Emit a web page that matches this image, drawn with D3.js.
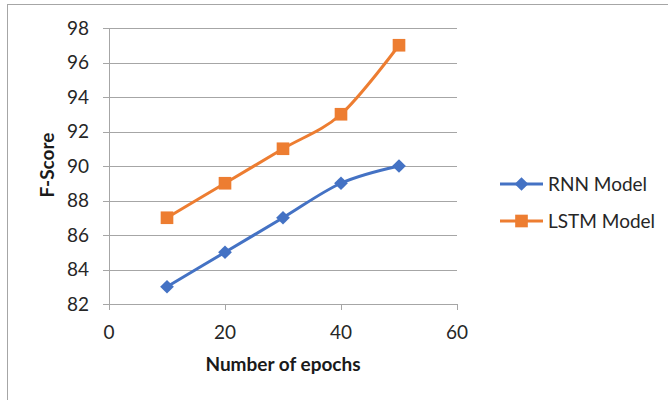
<!DOCTYPE html>
<html>
<head>
<meta charset="utf-8">
<script src="https://cdn.jsdelivr.net/npm/d3@7"></script>
<style>
  html, body { margin: 0; padding: 0; background: #fff; }
  svg { display: block; font-family: Lato, "Open Sans", sans-serif; }
</style>
</head>
<body>
<svg id="chart" width="668" height="400"></svg>
<script>
// Epoch counts on the x axis
const epochs = [10, 20, 30, 40, 50];
// F-Score per model
const rnnScores = [83, 85, 87, 89, 90];
const lstmScores = [87, 89, 91, 93, 97];
const seriesNames = ["RNN Model", "LSTM Model"];
const seriesColors = ["#4472C4", "#ED7D31"];
const xTicks = [0, 20, 40, 60];
const yTicks = [82, 84, 86, 88, 90, 92, 94, 96, 98];

const svg = d3.select("#chart");
const W = 668, H = 400;

// outer chart frame (only top and left edges fall inside the canvas)
svg.append("rect")
  .attr("x", 7.5).attr("y", 4.5)
  .attr("width", W + 20).attr("height", H + 20)
  .attr("fill", "none").attr("stroke", "#a6a6a6").attr("stroke-width", 1);

const plot = { left: 109, right: 457, top: 28, bottom: 304 };

const x = d3.scaleLinear().domain([0, 60]).range([plot.left, plot.right]);
const y = d3.scaleLinear().domain([82, 98]).range([plot.bottom, plot.top]);

// horizontal gridlines with short tick stubs on the left
svg.append("g")
  .selectAll("line")
  .data(yTicks)
  .join("line")
  .attr("x1", plot.left - 6).attr("x2", plot.right)
  .attr("y1", d => Math.round(y(d)) + 0.5).attr("y2", d => Math.round(y(d)) + 0.5)
  .attr("stroke", "#a6a6a6").attr("stroke-width", 1);

// vertical axis line
svg.append("line")
  .attr("x1", plot.left + 0.5).attr("x2", plot.left + 0.5)
  .attr("y1", plot.top).attr("y2", plot.bottom + 6)
  .attr("stroke", "#a6a6a6");

// x-axis tick stubs
svg.append("g")
  .selectAll("line")
  .data(xTicks)
  .join("line")
  .attr("x1", d => Math.round(x(d)) + 0.5).attr("x2", d => Math.round(x(d)) + 0.5)
  .attr("y1", plot.bottom).attr("y2", plot.bottom + 6)
  .attr("stroke", "#a6a6a6");

// y tick labels
svg.append("g")
  .selectAll("text")
  .data(yTicks)
  .join("text")
  .attr("x", 89).attr("y", d => y(d))
  .attr("dy", "0.36em")
  .attr("text-anchor", "end")
  .attr("font-size", 19).attr("fill", "#262626")
  .text(d => d);

// x tick labels
svg.append("g")
  .selectAll("text")
  .data(xTicks)
  .join("text")
  .attr("x", d => x(d)).attr("y", 339)
  .attr("text-anchor", "middle")
  .attr("font-size", 19).attr("fill", "#262626")
  .text(d => d);

// axis titles
svg.append("text")
  .attr("x", 283).attr("y", 371)
  .attr("text-anchor", "middle")
  .attr("font-size", 19).attr("font-weight", "bold").attr("fill", "#1a1a1a")
  .text("Number of epochs");

svg.append("text")
  .attr("transform", "translate(54,165) rotate(-90)")
  .attr("text-anchor", "middle")
  .attr("font-size", 19).attr("font-weight", "bold").attr("fill", "#1a1a1a")
  .text("F-Score");

// smoothed series lines
const line = d3.line()
  .x(d => x(d[0])).y(d => y(d[1]))
  .curve(d3.curveCardinal.tension(0));

const series = [rnnScores, lstmScores].map((vals, i) => ({
  name: seriesNames[i],
  color: seriesColors[i],
  points: epochs.map((e, j) => [e, vals[j]])
}));

const diamond = d3.symbol().type(d3.symbolDiamond2).size(120);
const square = d3.symbol().type(d3.symbolSquare).size(160);

series.forEach((s, i) => {
  svg.append("path")
    .attr("d", line(s.points))
    .attr("fill", "none")
    .attr("stroke", s.color).attr("stroke-width", 3)
    .attr("stroke-linejoin", "round");
  svg.append("g")
    .selectAll("path")
    .data(s.points)
    .join("path")
    .attr("transform", d => `translate(${x(d[0])},${y(d[1])})`)
    .attr("d", i === 0 ? diamond : square)
    .attr("fill", s.color);
});

// legend
const legend = svg.append("g");
series.forEach((s, i) => {
  const ly = 184 + i * 37;
  legend.append("line")
    .attr("x1", 500).attr("x2", 543)
    .attr("y1", ly).attr("y2", ly)
    .attr("stroke", s.color).attr("stroke-width", 3);
  legend.append("path")
    .attr("transform", `translate(521.5,${ly})`)
    .attr("d", i === 0 ? diamond : square)
    .attr("fill", s.color);
  legend.append("text")
    .attr("x", 548).attr("y", ly)
    .attr("dy", "0.36em")
    .attr("font-size", 19).attr("fill", "#262626")
    .text(s.name);
});
</script>
</body>
</html>
